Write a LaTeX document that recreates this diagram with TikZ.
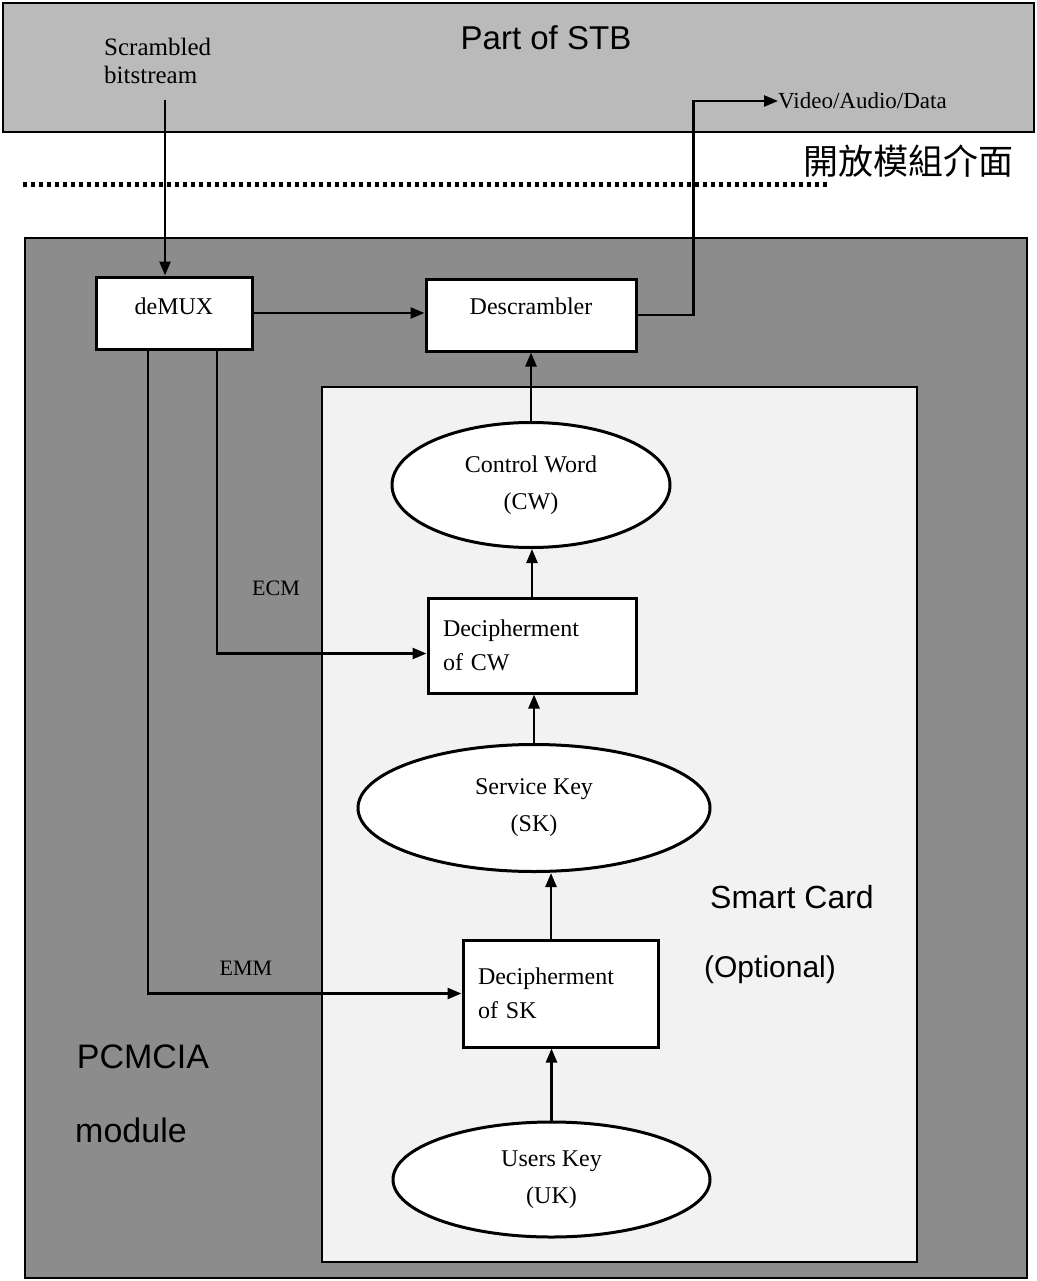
\documentclass[tikz,border=0pt]{standalone}
\usepackage{fontspec}
\setmainfont{Liberation Serif}
\setsansfont{Liberation Sans}
\newfontfamily\cjk{Noto Sans CJK TC}
\usetikzlibrary{shapes.geometric,arrows.meta}
\begin{document}
\begin{tikzpicture}[x=1pt,y=-1pt,
  region/.style={draw, line width=2.5pt, inner sep=0pt},
  box/.style={draw, fill=white, line width=3pt, inner sep=0pt, font=\fontsize{24}{34}\selectfont, align=center},
  dbox/.style={draw, fill=white, line width=3pt, inner xsep=15pt, inner ysep=0pt, font=\fontsize{24}{34}\selectfont, align=left},
  oval/.style={ellipse, draw, fill=white, line width=3pt, inner sep=0pt, font=\fontsize{24}{37}\selectfont, align=center},
  arr/.style={line width=2.5pt, -{Triangle[length=14pt,width=11pt]}},
  big/.style={font=\sffamily\fontsize{32}{36}\selectfont, inner sep=0pt},
  lbl/.style={font=\fontsize{22}{27}\selectfont, inner sep=0pt}
]
\useasboundingbox (0,0) rectangle (1036,1281);
\fill[white] (0,0) rectangle (1036,1281);

% regions
\node[region, fill=black!27, minimum width=1031pt, minimum height=129pt] (stb) at (518.5,67.5) {};
\node[region, fill=black!45, minimum width=1002pt, minimum height=1040pt] (pcm) at (526,758) {};
\node[region, fill=black!5, minimum width=595pt, minimum height=875pt] (card) at (619.5,824.5) {};

% interface dotted line
\draw[line width=5pt, dash pattern=on 4pt off 4pt] (23,185) -- (830,185);

% region texts
\node[big, font=\sffamily\fontsize{33}{38}\selectfont] (stbt) at (546,38) {Part of STB};
\node[lbl, anchor=west, align=left, font=\fontsize{25}{28}\selectfont] (scr) at (104,61) {Scrambled\\bitstream};
\node[lbl, anchor=west, font=\fontsize{23}{27}\selectfont] (vad) at (778,101) {Video/Audio/Data};
\node[inner sep=0pt, font=\cjk\fontsize{35}{40}\selectfont] (iface) at (908,161) {開放模組介面};
\node[big] (sc) at (792,897) {Smart Card};
\node[big, font=\sffamily\fontsize{30}{34}\selectfont] (opt) at (770,970) {(Optional)};
\node[big, font=\sffamily\fontsize{34}{38}\selectfont] (pc1) at (143,1057) {PCMCIA};
\node[big, font=\sffamily\fontsize{34}{38}\selectfont] (pc2) at (131,1130) {module};

% boxes
\node[box, minimum width=156pt, minimum height=72pt] (demux) at (174,313) {\raisebox{14pt}{deMUX}};
\node[box, minimum width=210pt, minimum height=72pt] (desc) at (531,315) {\raisebox{18pt}{Descrambler}};
\node[oval, minimum width=278pt, minimum height=125pt] (cw) at (531,485) {Control Word\\(CW)};
\node[dbox, text width=178pt, minimum height=95pt] (deccw) at (532,645.5) {Decipherment\\of CW};
\node[oval, minimum width=352pt, minimum height=127pt] (sk) at (534,808) {Service Key\\(SK)};
\node[dbox, text width=165pt, minimum height=107pt] (decsk) at (560.5,993.5) {Decipherment\\of SK};
\node[oval, minimum width=317pt, minimum height=115pt] (uk) at (551.5,1179.5) {Users Key\\(UK)};

% connector labels
\node[lbl] (ecm) at (276,588) {ECM};
\node[lbl] (emm) at (246,968) {EMM};

% connectors
\coordinate (sin) at (165,100);
\draw[arr] (sin) -- (sin |- demux.north);
\draw[arr] (demux.east) -- (demux.east -| desc.west);
\draw[arr] (desc.east) -- ++(56,0) |- (vad.west);
\draw[arr] (cw.north) -- (desc.south);
\draw[arr] (deccw.north) -- (deccw.north |- cw.south);
\draw[arr] (sk.north) -- (sk.north |- deccw.south);
\draw[arr] ([xshift=-9.5pt]decsk.north) -- ([xshift=-9.5pt]decsk.north |- sk.south);
\draw[arr] (uk.north) -- (uk.north |- decsk.south);
\draw[arr] ([xshift=43pt]demux.south) |- ([yshift=-8pt]deccw.west);
\draw[arr] ([xshift=-26pt]demux.south) |- (decsk.west);
\end{tikzpicture}
\end{document}
